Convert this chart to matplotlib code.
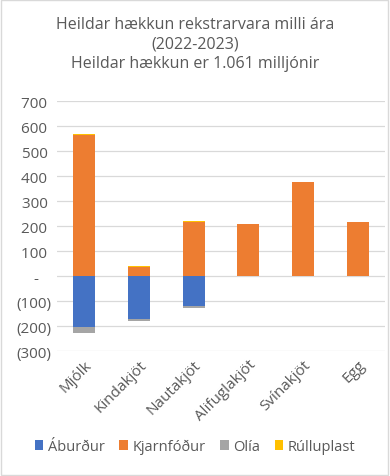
import numpy as np
import matplotlib.pyplot as plt
from matplotlib.patches import Rectangle
from matplotlib.ticker import FuncFormatter

flokkar = ['Mjólk', 'Kindakjöt', 'Nautakjöt', 'Alifuglakjöt', 'Svínakjöt', 'Egg']
aburdur = [-203, -170, -121, 0, 0, 0]
kjarnfodur = [563, 37, 217, 208, 376, 216]
olia = [-23, -10, -8, 0, 0, 0]
rulluplast = [4, 3, 3, 0, 0, 0]

roo = [('Áburður', aburdur, '#4472C4'),
       ('Kjarnfóður', kjarnfodur, '#ED7D31'),
       ('Olía', olia, '#A5A5A5'),
       ('Rúlluplast', rulluplast, '#FFC000')]

plt.rcParams['font.family'] = ['Open Sans', 'DejaVu Sans']
textalitur = '#595959'

fig = plt.figure(figsize=(3.9, 4.77), dpi=100)
ax = fig.add_axes([0.146, 0.262, 0.841, 0.524])

x = np.arange(len(flokkar))
pos_botn = np.zeros(len(flokkar))
neg_botn = np.zeros(len(flokkar))
for nafn, gildi, litur in roo:
    g = np.array(gildi, dtype=float)
    botn = np.where(g >= 0, pos_botn, neg_botn)
    ax.bar(x, g, 0.4, bottom=botn, color=litur, label=nafn, zorder=3)
    pos_botn += np.where(g > 0, g, 0)
    neg_botn += np.where(g < 0, g, 0)

def fmt(v, p):
    if v == 0:
        return '-   '
    if v < 0:
        return '(%d)' % abs(v)
    return '%d ' % v

ax.set_ylim(-300, 700)
ax.set_xlim(-0.5, len(flokkar) - 0.5)
ax.set_yticks(np.arange(-300, 701, 100))
ax.yaxis.set_major_formatter(FuncFormatter(fmt))
ax.grid(axis='y', color='#D9D9D9', linewidth=0.9, zorder=0)
for s in ax.spines.values():
    s.set_visible(False)
ax.tick_params(length=0, labelsize=11, colors=textalitur, pad=4)
ax.set_xticks(x)
ax.set_xticklabels(flokkar, rotation=45, ha='right', rotation_mode='anchor')

fig.text(0.5, 0.965, 'Heildar hækkun rekstrarvara milli ára\n(2022-2023)\nHeildar hækkun er 1.061 milljónir',
         ha='center', va='top', fontsize=11.5, color=textalitur, linespacing=1.3)

fig.legend(loc='center', bbox_to_anchor=(0.5, 0.062), ncol=4, frameon=False,
           fontsize=10.5, labelcolor=textalitur, handlelength=0.6, handleheight=0.6,
           handletextpad=0.3, columnspacing=1.0)

fig.patches.append(Rectangle((0.003, 0.003), 0.992, 0.994, transform=fig.transFigure,
                             fill=False, edgecolor='#D9D9D9', linewidth=1))

fig.savefig('out.png', dpi=100)
